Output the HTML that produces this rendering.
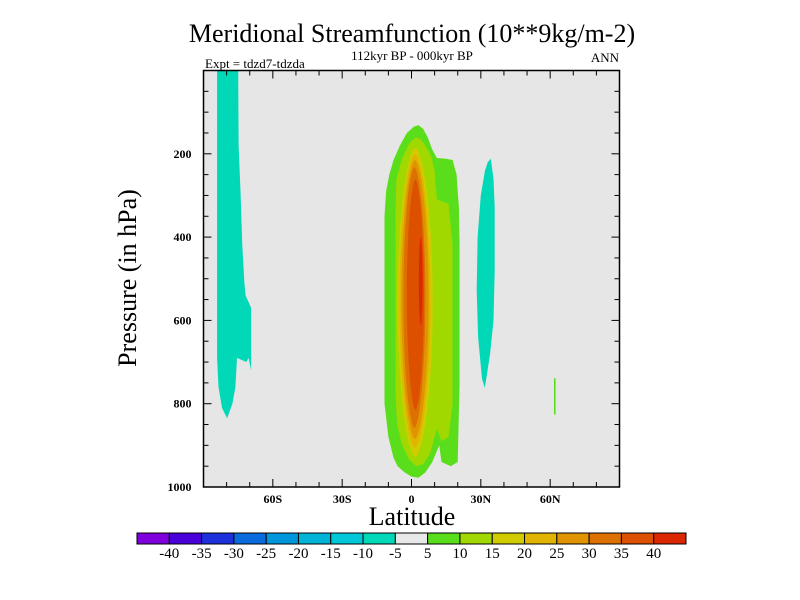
<!DOCTYPE html>
<html><head><meta charset="utf-8"><style>
body{margin:0;background:#fff;}
svg{display:block;font-family:"Liberation Serif",serif;}
</style></head><body>
<svg id="chart" width="800" height="600">
<text x="412" y="42" font-size="26" text-anchor="middle">Meridional Streamfunction (10**9kg/m-2)</text>
<text x="412" y="60" font-size="13" text-anchor="middle">112kyr BP - 000kyr BP</text>
<text x="205" y="68" font-size="13">Expt = tdzd7-tdzda</text>
<text x="619" y="62" font-size="13" text-anchor="end">ANN</text>
<rect x="203.5" y="70.5" width="416" height="416.5" fill="#e6e6e6"/>
<g id="fields"></g>
<g id="axes"></g>
<text transform="translate(136,278) rotate(-90)" font-size="26" text-anchor="middle">Pressure (in hPa)</text>
<text x="412" y="525" font-size="26" text-anchor="middle">Latitude</text>
<g id="colorbar"></g>
</svg>
<script>
const levelColors=["#7f00dc","#4a00d8","#1e30dc","#0a6cdc","#0096dc","#00b4d8","#00c8d8","#00d8b8","#e8e8e8","#5ade1c","#a0d800","#d0cc00","#e0b400","#e09400","#dc7000","#dc5000","#dc2800"];
const levelLabels=["-40","-35","-30","-25","-20","-15","-10","-5","5","10","15","20","25","30","35","40"];
const yTickValues=[200,400,600,800,1000];
const xTickValues=[-60,-30,0,30,60];
const xTickLabels=["60S","30S","0","30N","60N"];
const southTealLat=[-84.1,-75,-74.8,-74,-73.2,-72.3,-71.8,-69.4,-69.4,-70.5,-71.5,-75.5,-76.2,-77.5,-79.8,-82,-83.5,-84.1];
const southTealP=[0,0,180,290,420,510,540,570,720,690,700,690,760,800,835,810,760,690];
const northTealLat=[34.3,35.5,36,36,35.5,34,32.5,31.7,30.5,28.8,28.2,28.6,30,31.8,33];
const northTealP=[212,260,330,480,600,680,735,762,740,640,527,400,300,240,220];
const green5Lat=[1,3,5,7,9,11,15,17.8,19.5,20.5,20.8,20.8,20,17,13,12,9,6,3,0,-3,-6,-7.8,-10,-11.7,-11.7,-11,-9.6,-7.8,-5,-2];
const green5P=[135,131,140,160,190,210,212,215,250,330,420,750,940,950,940,900,940,965,978,975,965,950,930,880,800,350,290,250,215,180,150];
const yg10Lat=[2,4,6,8.5,10,11,16,17.8,17.8,16,13,11,8,5,2,-1,-4,-6.2,-6.9,-6.9,-6.5,-4,-1];
const yg10P=[160,165,180,205,240,310,320,420,800,880,890,860,920,945,950,935,900,850,780,320,260,210,175];
const coreLevel=[11,12,13,14,15];
const coreLatMin=[-6.0,-5.2,-4.4,-3.5,-2.0];
const coreLatMax=[9.2,8.2,7.4,6.0,5.4];
const corePTop=[185,200,215,232,262];
const corePBot=[928,905,885,858,815];
const maxLat=[3.2,4.8];const maxP=[400,610];
const lineLat=[62,62];const lineP=[739,826];

const NS="http://www.w3.org/2000/svg";
const X0=203.5,X1=619.5,Y0=70.5,Y1=487;
const x=lat=>X0+(lat+90)/180*(X1-X0);
const y=p=>Y0+p/1000*(Y1-Y0);
function mk(tag,attrs,parent){const e=document.createElementNS(NS,tag);for(const k in attrs)e.setAttribute(k,attrs[k]);parent.appendChild(e);return e;}
const F=document.getElementById('fields');
function poly(lats,ps,col,name){
  const pts=lats.map((l,i)=>x(l).toFixed(1)+","+y(ps[i]).toFixed(1)).join(" ");
  const e=mk('polygon',{points:pts,fill:col},F);
  
  
}
poly(southTealLat,southTealP,levelColors[7],'south-negative-cell');
poly(northTealLat,northTealP,levelColors[7],'north-negative-cell');
poly(green5Lat,green5P,levelColors[9],'contour-5-10');
poly(yg10Lat,yg10P,levelColors[10],'contour-10-15');
coreLevel.forEach((lv,i)=>{
  const cx=(x(coreLatMin[i])+x(coreLatMax[i]))/2, rx=(x(coreLatMax[i])-x(coreLatMin[i]))/2;
  const cy=(y(corePTop[i])+y(corePBot[i]))/2, ry=(y(corePBot[i])-y(corePTop[i]))/2;
  const pts=[];
  for(let k=0;k<80;k++){const t=k/80*2*Math.PI;const s=Math.sin(t),c=Math.cos(t);
    pts.push((cx+rx*Math.sign(c)*Math.pow(Math.abs(c),1.15)).toFixed(1)+","+(cy+ry*s).toFixed(1));}
  const e=mk('polygon',{points:pts.join(" "),fill:levelColors[lv]},F);
  
  
});
const mx=mk('ellipse',{cx:(x(maxLat[0])+x(maxLat[1]))/2,cy:(y(maxP[0])+y(maxP[1]))/2,rx:(x(maxLat[1])-x(maxLat[0]))/2,ry:(y(maxP[1])-y(maxP[0]))/2,fill:levelColors[16]},F);


const ln=mk('rect',{x:x(lineLat[0])-0.8,y:y(lineP[0]),width:1.6,height:y(lineP[1])-y(lineP[0]),fill:levelColors[9]},F);



const A=document.getElementById('axes');
const fr=mk('rect',{x:X0,y:Y0,width:X1-X0,height:Y1-Y0,fill:'none',stroke:'#000','stroke-width':1.5},A);


for(let p=50;p<1000;p+=50){const len=p%200===0?8:5;
  mk('line',{x1:X0,x2:X0+len,y1:y(p),y2:y(p),stroke:'#000'},A);
  mk('line',{x1:X1,x2:X1-len,y1:y(p),y2:y(p),stroke:'#000'},A);}
for(let l=-80;l<=80;l+=10){const len=l%30===0?8:5;
  mk('line',{x1:x(l),x2:x(l),y1:Y1,y2:Y1-len,stroke:'#000'},A);
  mk('line',{x1:x(l),x2:x(l),y1:Y0,y2:Y0+len,stroke:'#000'},A);}
yTickValues.forEach(v=>{const t=mk('text',{x:X0-12,y:y(v)+4,'font-size':12,'font-weight':'bold','text-anchor':'end'},A);t.textContent=v;
  
  });
xTickValues.forEach((v,i)=>{const t=mk('text',{x:x(v),y:Y1+16,'font-size':12,'font-weight':'bold','text-anchor':'middle'},A);t.textContent=xTickLabels[i];
  
  });

const C=document.getElementById('colorbar');
const cbX=137,cbW=549,cbY=533,cbH=11,bw=cbW/levelColors.length;
levelColors.forEach((c,i)=>{const r=mk('rect',{x:cbX+i*bw,y:cbY,width:bw,height:cbH,fill:c,stroke:'#000','stroke-width':1},C);
  
  });
levelLabels.forEach((s,i)=>{const t=mk('text',{x:cbX+(i+1)*bw,y:cbY+25,'font-size':15,'text-anchor':'middle'},C);t.textContent=s;
  
  });
</script>
</body></html>
